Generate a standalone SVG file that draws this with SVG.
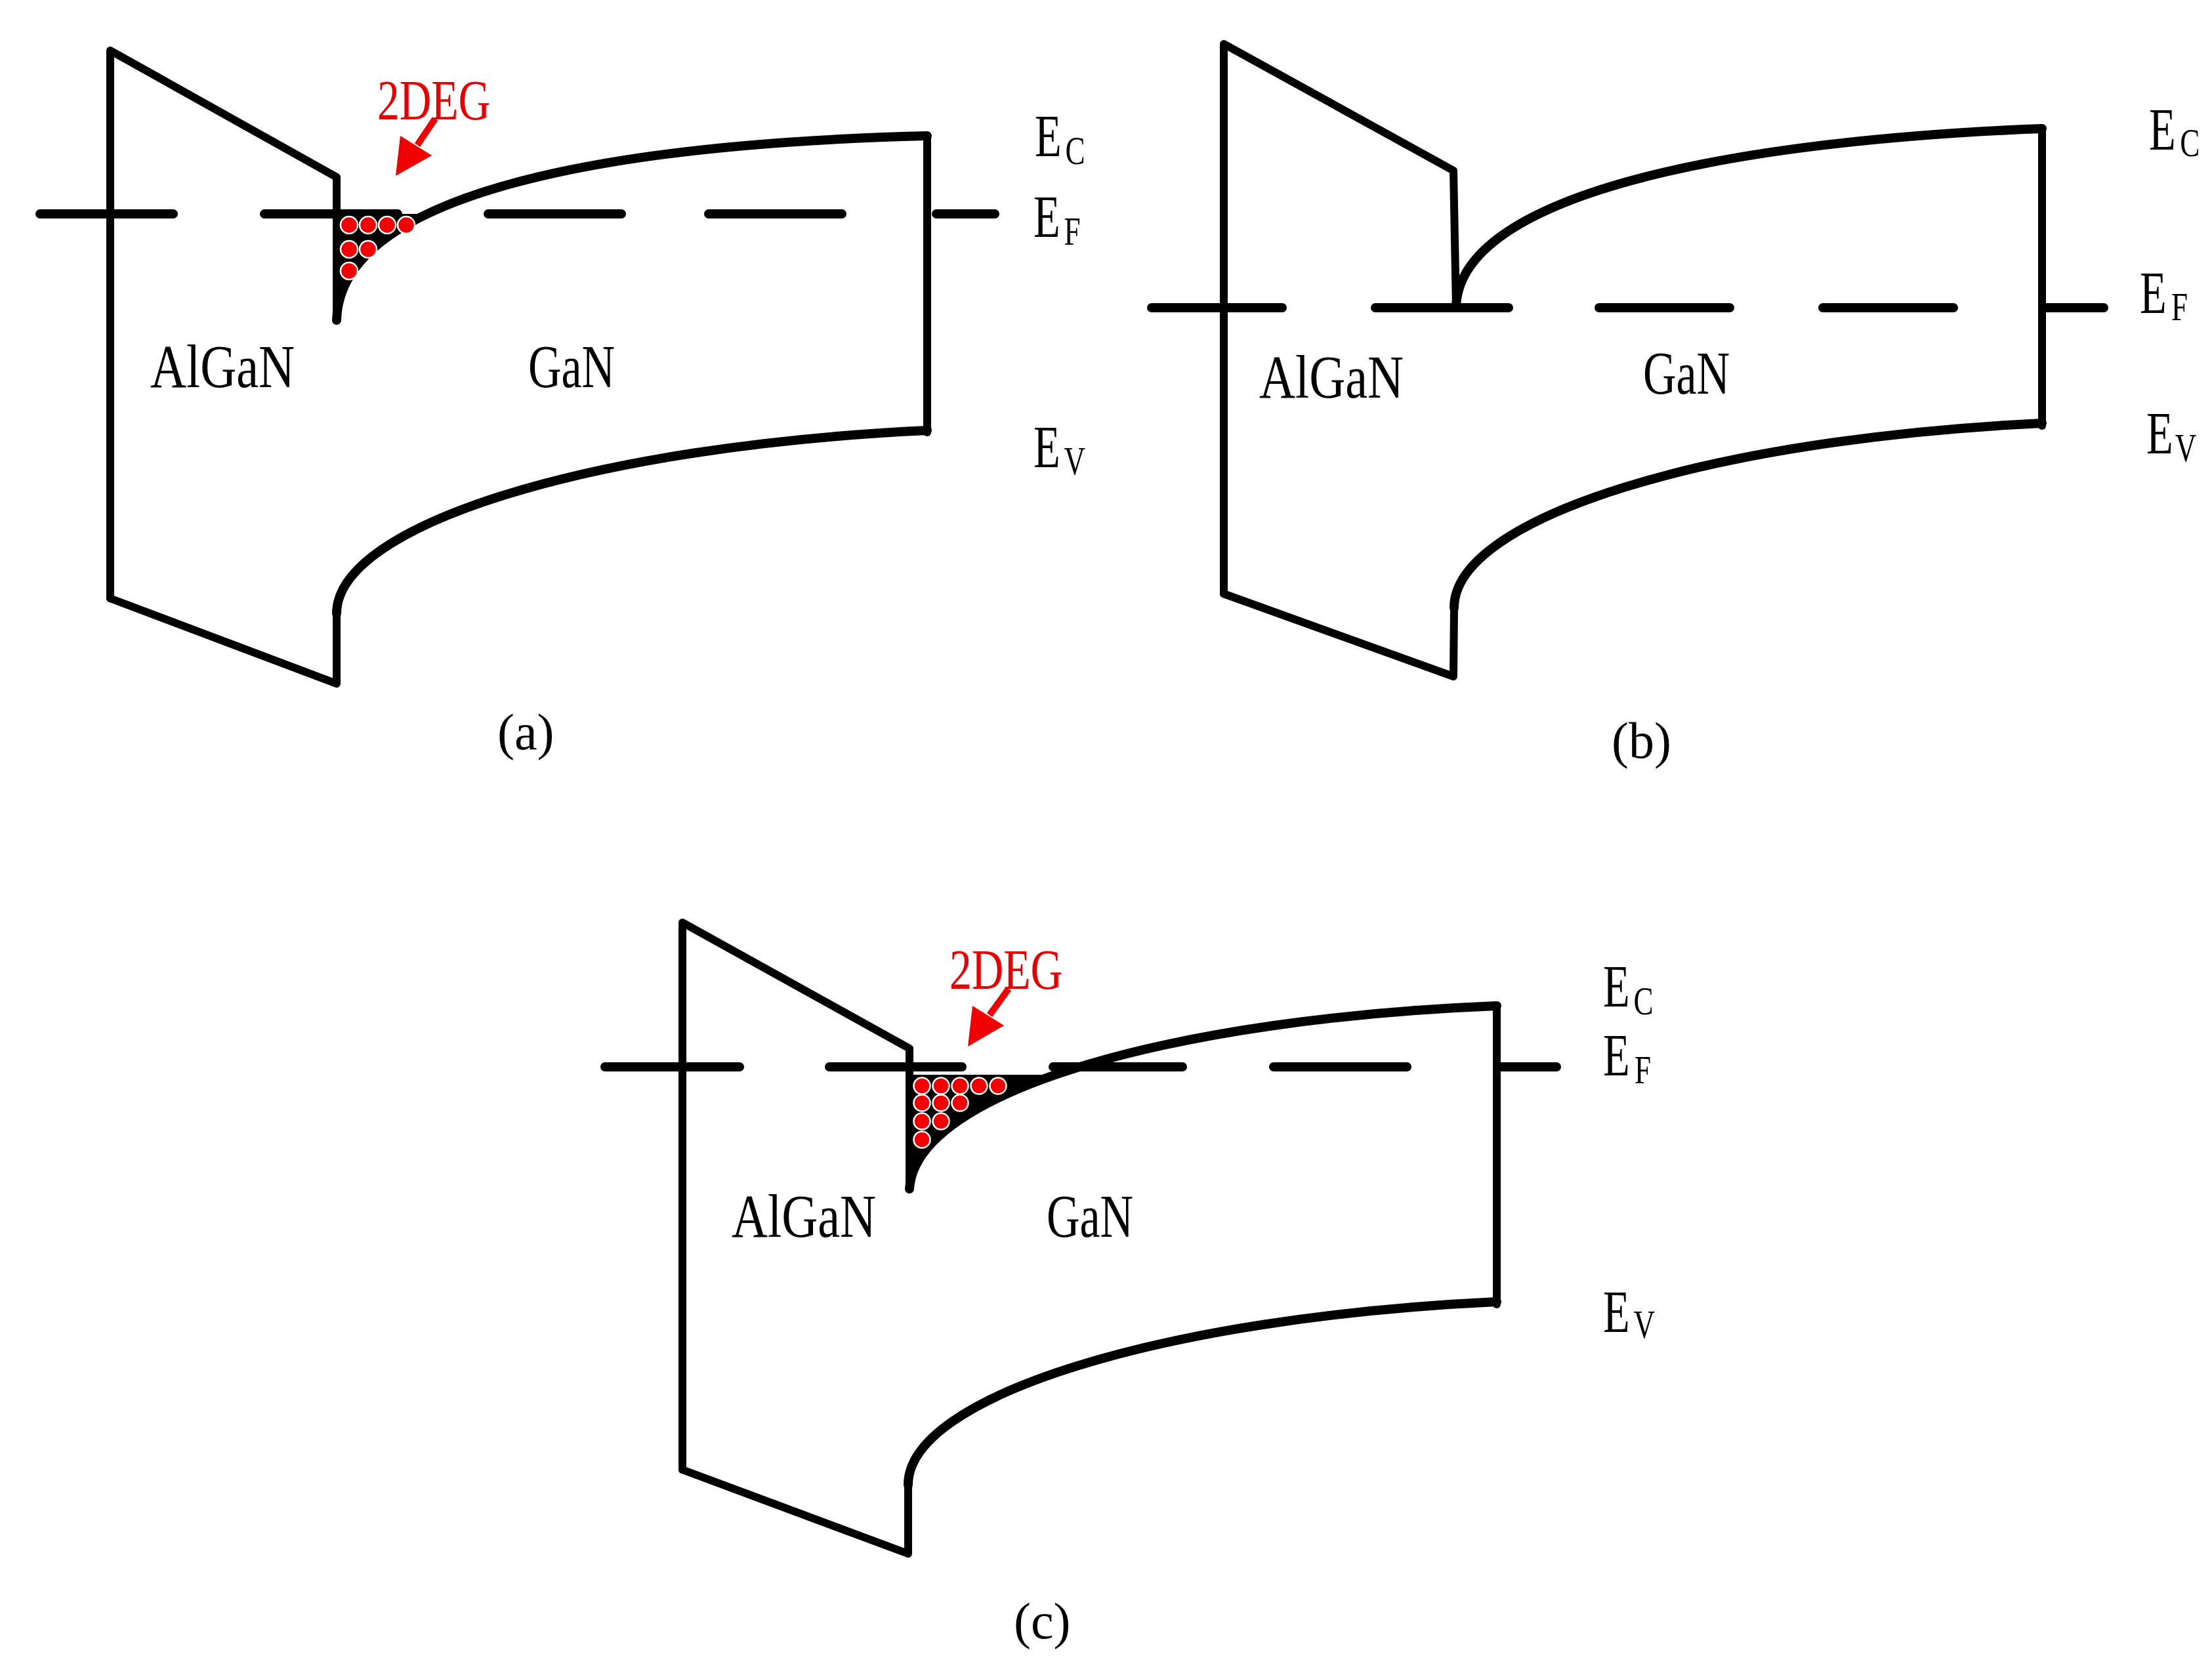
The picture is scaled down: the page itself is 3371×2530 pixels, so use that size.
<svg xmlns="http://www.w3.org/2000/svg" width="3371" height="2530" viewBox="0 0 3371 2530">
<style>
.ln{stroke:#000;stroke-width:12;fill:none;stroke-linecap:round;stroke-linejoin:round}
.cv{stroke:#000;stroke-width:14;fill:none;stroke-linecap:round}
.df{stroke:#000;stroke-width:14;fill:none;stroke-linecap:round}
.t{font-family:"Liberation Serif","Times New Roman",serif;fill:#000}
.lab{font-size:94px}
.E{font-size:90px}
.sub{font-size:61px}
.cap{font-size:78px}
.deg{font-family:"Liberation Serif","Times New Roman",serif;fill:#e60000;font-size:86px}
.el{fill:#f20000;stroke:#fff;stroke-width:2.5}
.arr{fill:#f00000;stroke:none}
.sh{stroke:#f00000;stroke-width:10;fill:none}
</style>
<defs>
<clipPath id="clipA"><rect x="505" y="326" width="300" height="170"/></clipPath>
<clipPath id="clipC"><rect x="1378" y="1638" width="400" height="180"/></clipPath>
</defs>
<rect width="3371" height="2530" fill="#fff"/>

<g id="panel-a">
  <path class="ln" d="M168 912 L168 77 L513 270 L513 488"/>
  <path class="ln" d="M168 912 L513 1042 L513 935"/>
  <path class="ln" d="M1413 207 L1413 659"/>
  <path class="cv" d="M513 488 C518 300 900 220 1413 207"/>
  <path class="cv" d="M513 935 C513 800 900 680 1413 656"/>
  <path fill="#000" clip-path="url(#clipA)" d="M513 488 C518 300 900 220 1413 207 L513 207 Z"/>
  <path class="df" d="M61 326 L264 326 M403 326 L606 326 M744 326 L947 326 M1080 326 L1283 326 M1427 326 L1516 326"/>
  <g id="electrons-a">
    <circle class="el" cx="532" cy="343" r="13"/>
    <circle class="el" cx="561" cy="343" r="13"/>
    <circle class="el" cx="590" cy="343" r="13"/>
    <circle class="el" cx="619" cy="343" r="13"/>
    <circle class="el" cx="532" cy="380" r="13"/>
    <circle class="el" cx="561" cy="380" r="13"/>
    <circle class="el" cx="532" cy="413" r="13"/>
  </g>
  <text class="deg" x="575" y="182" textLength="172" lengthAdjust="spacingAndGlyphs">2DEG</text>
  <text class="t lab" x="229" y="590" textLength="220" lengthAdjust="spacingAndGlyphs">AlGaN</text>
  <text class="t lab" x="805" y="590" textLength="132" lengthAdjust="spacingAndGlyphs">GaN</text>
  <text class="t E" transform="translate(1577 238) scale(0.74 1)">E<tspan class="sub" dx="8" dy="12">C</tspan></text>
  <text class="t E" transform="translate(1575 361) scale(0.74 1)">E<tspan class="sub" dx="8" dy="12">F</tspan></text>
  <text class="t E" transform="translate(1575 712) scale(0.74 1)">E<tspan class="sub" dx="8" dy="11">V</tspan></text>
  <text class="t cap" x="758" y="1142">(a)</text>
</g>

<g id="panel-b">
  <path class="ln" d="M1865 905 L1865 67 L2215 260 L2219 469"/>
  <path class="ln" d="M1865 905 L2215 1031 L2216 926"/>
  <path class="ln" d="M3112 196 L3112 649"/>
  <path class="cv" d="M2219 469 C2222 300 2620 215 3112 196"/>
  <path class="cv" d="M2216 926 C2216 789 2605 669 3112 645"/>
  <path class="df" d="M1755 469 L1954 469 M2096 469 L2299 469 M2437 469 L2636 469 M2778 469 L2977 469 M3119 469 L3206 469"/>
  <text class="t lab" x="1919" y="606" textLength="220" lengthAdjust="spacingAndGlyphs">AlGaN</text>
  <text class="t lab" x="2504" y="600" textLength="132" lengthAdjust="spacingAndGlyphs">GaN</text>
  <text class="t E" transform="translate(3275 228) scale(0.74 1)">E<tspan class="sub" dx="9" dy="10">C</tspan></text>
  <text class="t E" transform="translate(3261 477) scale(0.74 1)">E<tspan class="sub" dx="10" dy="11">F</tspan></text>
  <text class="t E" transform="translate(3271 691) scale(0.74 1)">E<tspan class="sub" dx="4" dy="12">V</tspan></text>
  <text class="t cap" x="2456" y="1155">(b)</text>
</g>

<g id="panel-c">
  <path class="ln" d="M1040 2240 L1040 1406 L1386 1598 L1386 1812"/>
  <path class="ln" d="M1040 2240 L1384 2368 L1384 2263"/>
  <path class="ln" d="M2281 1533 L2281 1988"/>
  <path class="cv" d="M1386 1812 C1395 1660 1800 1552 2281 1533"/>
  <path class="cv" d="M1384 2263 C1384 2128 1771 2008 2281 1984"/>
  <path fill="#000" clip-path="url(#clipC)" d="M1386 1812 C1395 1660 1800 1552 2281 1533 L1386 1533 Z"/>
  <path class="df" d="M922 1626 L1127 1626 M1264 1626 L1466 1626 M1605 1626 L1802 1626 M1941 1626 L2144 1626 M2283 1626 L2372 1626"/>
  <g id="electrons-c">
    <circle class="el" cx="1405" cy="1655" r="12.5"/>
    <circle class="el" cx="1434" cy="1655" r="12.5"/>
    <circle class="el" cx="1463" cy="1655" r="12.5"/>
    <circle class="el" cx="1492" cy="1655" r="12.5"/>
    <circle class="el" cx="1521" cy="1655" r="12.5"/>
    <circle class="el" cx="1405" cy="1681" r="12.5"/>
    <circle class="el" cx="1434" cy="1681" r="12.5"/>
    <circle class="el" cx="1463" cy="1681" r="12.5"/>
    <circle class="el" cx="1405" cy="1709" r="12.5"/>
    <circle class="el" cx="1434" cy="1709" r="12.5"/>
    <circle class="el" cx="1405" cy="1737" r="12.5"/>
  </g>
  <text class="deg" x="1447" y="1507" textLength="172" lengthAdjust="spacingAndGlyphs">2DEG</text>
  <text class="t lab" x="1115" y="1885" textLength="220" lengthAdjust="spacingAndGlyphs">AlGaN</text>
  <text class="t lab" x="1595" y="1885" textLength="132" lengthAdjust="spacingAndGlyphs">GaN</text>
  <text class="t E" transform="translate(2443 1534) scale(0.74 1)">E<tspan class="sub" dx="8" dy="12">C</tspan></text>
  <text class="t E" transform="translate(2443 1639) scale(0.74 1)">E<tspan class="sub" dx="10" dy="12">F</tspan></text>
  <text class="t E" transform="translate(2443 2030) scale(0.74 1)">E<tspan class="sub" dx="8" dy="9">V</tspan></text>
  <text class="t cap" x="1545" y="2497">(c)</text>
</g>

<g id="connectors">
  <line class="sh" x1="663" y1="181" x2="636" y2="221"/>
  <polygon class="arr" points="603,268 610,207 658,237"/>
  <line class="sh" x1="1537" y1="1507" x2="1508" y2="1547"/>
  <polygon class="arr" points="1475,1595 1482,1533 1530,1563"/>
</g>
</svg>
